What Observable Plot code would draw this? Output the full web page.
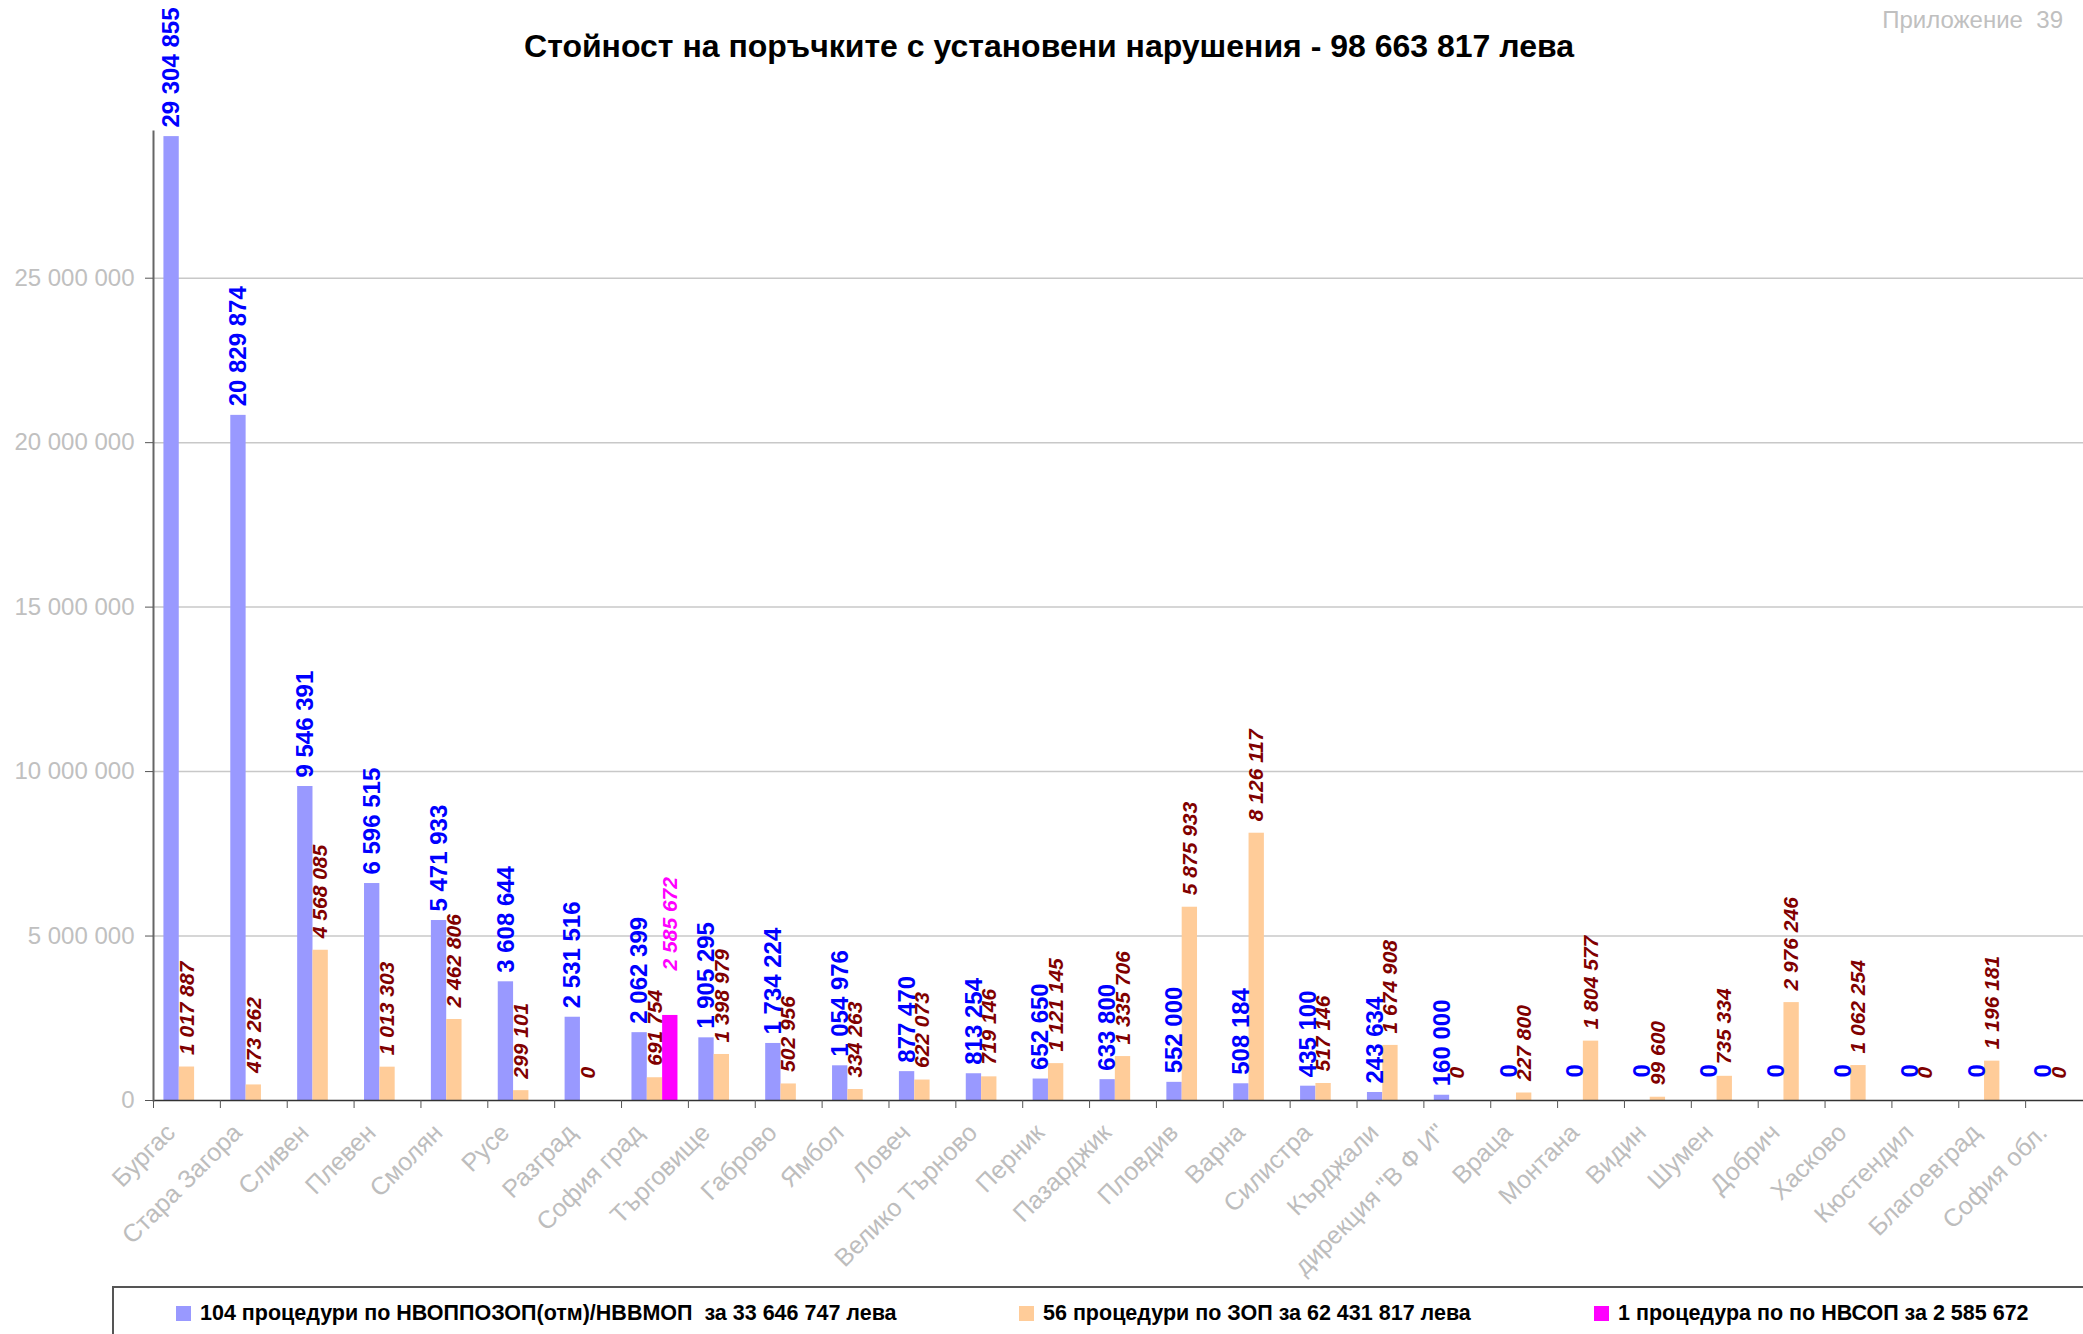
<!DOCTYPE html>
<html>
<head>
<meta charset="utf-8">
<script src="https://cdn.jsdelivr.net/npm/d3@7"></script>
<script src="https://cdn.jsdelivr.net/npm/@observablehq/plot@0.6"></script>
<style>
html, body { margin: 0; padding: 0; background: #fff; overflow: hidden; }
#page { position: relative; width: 2083px; height: 1334px; overflow: hidden; font-family: "Liberation Sans", Arial, sans-serif; }
#chart { position: absolute; left: 0; top: 0; }
#title { position: absolute; left: 0; width: 2098px; top: 30px; text-align: center; font-weight: bold; font-size: 32px; line-height: 1; color: #000; }
#appendix { position: absolute; right: 20px; top: 8px; font-size: 24px; line-height: 1; color: #c0c0c0; white-space: pre; }
#legend { position: absolute; left: 112px; top: 1286px; width: 2100px; height: 100px; border-top: 2px solid #555; border-left: 2px solid #555; }
.item { position: absolute; top: 14px; display: flex; align-items: center; font-weight: bold; font-size: 21.5px; line-height: 22px; color: #000; white-space: pre; }
.sw { width: 15px; height: 15px; margin-right: 9px; flex: none; }
</style>
</head>
<body>
<div id="page">
  <div id="chart"></div>
  <div id="title"></div>
  <div id="appendix"></div>
  <div id="legend"></div>
</div>
<script>
// ---- data ----
const categories = ["Бургас", "Стара Загора", "Сливен", "Плевен", "Смолян", "Русе", "Разград", "София град", "Търговище", "Габрово", "Ямбол", "Ловеч", "Велико Търново", "Перник", "Пазарджик", "Пловдив", "Варна", "Силистра", "Кърджали", "дирекция \"В Ф И\"", "Враца", "Монтана", "Видин", "Шумен", "Добрич", "Хасково", "Кюстендил", "Благоевград", "София обл."];
const valuesNvop = [29304855, 20829874, 9546391, 6596515, 5471933, 3608644, 2531516, 2062399, 1905295, 1734224, 1054976, 877470, 813254, 652650, 633800, 552000, 508184, 435100, 243634, 160000, 0, 0, 0, 0, 0, 0, 0, 0, 0];
const valuesZop = [1017887, 473262, 4568085, 1013303, 2462806, 299101, 0, 691754, 1398979, 502956, 334263, 622073, 719146, 1121145, 1335706, 5875933, 8126117, 517146, 1674908, 0, 227800, 1804577, 99600, 735334, 2976246, 1062254, 0, 1196181, 0];
const valuesNvsop = [null, null, null, null, null, null, null, 2585672, null, null, null, null, null, null, null, null, null, null, null, null, null, null, null, null, null, null, null, null, null];
const seriesNames = [
  "104 процедури по НВОППОЗОП(отм)/НВВМОП  за 33 646 747 лева",
  "56 процедури по ЗОП за 62 431 817 лева",
  "1 процедура по по НВСОП за 2 585 672"
];
const yTicks = [0, 5000000, 10000000, 15000000, 20000000, 25000000];
const yMax = 29460000;
const titleText = "Стойност на поръчките с установени нарушения - 98 663 817 лева";
const appendixText = "Приложение  39";

// ---- build table ----
const keys = ["nvop", "zop", "nvsop"];
const rows = categories.map((c, i) => ({cat: c, nvop: valuesNvop[i], zop: valuesZop[i], nvsop: valuesNvsop[i]}));

// ---- styles ----
const styles = [
  {fill: "#9999ff", label: "#0000ff", size: 24, weight: "bold", fstyle: "normal", dy: -9, dyZero: -23},
  {fill: "#ffcc99", label: "#800000", size: 21, weight: "bold", fstyle: "italic", dy: -12, dyZero: -22},
  {fill: "#ff00ff", label: "#ff00ff", size: 21, weight: "bold", fstyle: "italic", dy: -45, dyZero: -45}
];

const W = 2083, H = 1282;
const mL = 153, mR = -9, mT = 131, mB = 182;
const step = (W - mL - mR) / categories.length;
const pad = 0.156, slot = 0.2293; // fractions of band step

const fmt = v => d3.format(",")(v).replace(/,/g, " ");
const font = "\"Liberation Sans\", Arial, sans-serif";

const marks = [];
marks.push(Plot.gridY(yTicks.filter(v => v > 0), {stroke: "#c8c8c8", strokeOpacity: 1, strokeWidth: 1.5}));
keys.forEach((k, i) => {
  const s = styles[i];
  const left = (pad + i * slot) * step;
  const right = step - left - slot * step;
  marks.push(Plot.barY(rows.filter(r => r[k] != null), {x: "cat", y: k, fill: s.fill, insetLeft: left, insetRight: right}));
});
marks.push(Plot.ruleY([0], {stroke: "#333", strokeWidth: 1.5}));
marks.push(Plot.frame({anchor: "left", stroke: "#666", strokeWidth: 2}));
marks.push(Plot.axisY({ticks: yTicks, tickFormat: fmt, tickSize: 8, tickPadding: 11, fontSize: 24, fill: "#c0c0c0", stroke: "#555", label: null}));
marks.push(Plot.axisX({tickSize: 8, tickFormat: () => "", dx: -step / 2, stroke: "#555", label: null}));
marks.push(Plot.axisX({tickSize: 0, tickRotate: -45, tickPadding: 20, dx: -16, dy: 8, fontSize: 25, fill: "#bdbdbd", label: null}));
keys.forEach((k, i) => {
  const s = styles[i];
  const dx = (pad + (i + 0.5) * slot - 0.5) * step;
  const common = {
    x: "cat", y: k, text: d => fmt(d[k]), rotate: -90, textAnchor: "start", lineAnchor: "middle",
    dx, fill: s.label, fontSize: s.size, fontWeight: s.weight, fontStyle: s.fstyle
  };
  marks.push(Plot.text(rows.filter(r => r[k] != null && r[k] > 0), {...common, dy: s.dy}));
  marks.push(Plot.text(rows.filter(r => r[k] === 0), {...common, dy: s.dyZero}));
});

const chart = Plot.plot({
  width: W, height: H,
  marginLeft: mL, marginRight: mR, marginTop: mT, marginBottom: mB,
  style: {fontFamily: font, background: "transparent"},
  x: {type: "band", domain: categories, padding: 0, round: false},
  y: {domain: [0, yMax], label: null},
  marks
});
document.getElementById("chart").append(chart);

document.getElementById("title").textContent = titleText;
document.getElementById("appendix").textContent = appendixText;

const legend = document.getElementById("legend");
const itemLefts = [62, 905, 1480];
seriesNames.forEach((name, i) => {
  const it = document.createElement("div");
  it.className = "item";
  it.style.left = itemLefts[i] + "px";
  const sw = document.createElement("span");
  sw.className = "sw";
  sw.style.background = styles[i].fill;
  const tx = document.createElement("span");
  tx.textContent = name;
  it.append(sw, tx);
  legend.append(it);
});
</script>
</body>
</html>
